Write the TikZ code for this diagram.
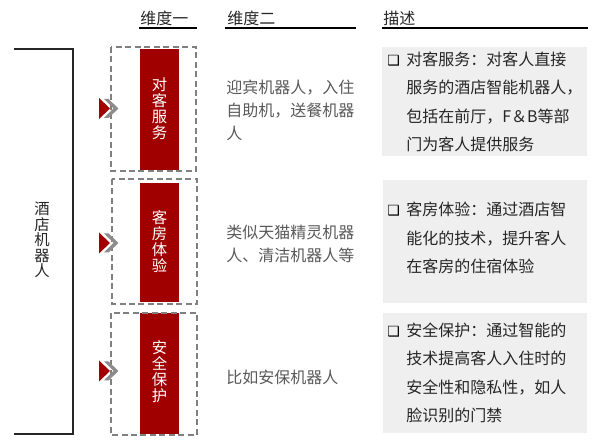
\documentclass[tikz,border=0pt]{standalone}
\usepackage{fontspec}
\setmainfont{Noto Sans CJK SC}
\newfontfamily\dejavu{DejaVu Sans}
\definecolor{hongse}{RGB}{160,0,0}
\definecolor{nenxam}{RGB}{239,239,239}
\definecolor{vienxam}{RGB}{128,128,128}
\definecolor{muixam}{RGB}{140,140,140}
\definecolor{chuxam}{RGB}{89,89,89}
\definecolor{chuden}{RGB}{38,38,38}
\newcommand\ovuong{\makebox[14.25pt][l]{\color{black}\dejavu\bfseries\fontsize{10.5}{12}\selectfont ❑}}
\begin{document}
\begin{tikzpicture}[x=0.75pt,y=-0.75pt,
	khung/.style={draw=vienxam,line width=1.4pt,dash pattern=on 4.5pt off 2.6pt},
	chudo/.style={text=white,font=\fontsize{11.5}{12}\selectfont,align=center,inner sep=0pt},
	cot2/.style={anchor=west,text=chuxam,font=\fontsize{12}{17.3}\selectfont,align=left,inner sep=0pt},
	mota/.style={anchor=west,text=chuden,font=\fontsize{12}{21.4}\selectfont,align=left,inner sep=0pt},
	tieude/.style={anchor=west,text=chuden,font=\fontsize{12}{14}\selectfont,inner sep=0pt}]
	\useasboundingbox (0,0) rectangle (594,441);
	
	%Tiêu đề
	\node[tieude] (td1) at (140,18) {维度一};
	\node[tieude] (td2) at (227,18) {维度二};
	\node[tieude] (td3) at (383,18) {描述};
	\draw[line width=.9pt] (139,28)--(197,28);
	\draw[line width=.9pt] (225,28)--(356,28);
	\draw[line width=.9pt] (382,28)--(588,28);
	
	%Ngoặc trái
	\draw[line width=1pt,chuden] (14,49)--(73,49)--(73,434)--(14,434);
	\node[chuden,font=\fontsize{11.5}{11.6}\selectfont,align=center,inner sep=0pt] (nhom) at (42,240) {酒\\店\\机\\器\\人};
	
	%Khung nét đứt + thanh đỏ
	\fill[hongse] (140,49) rectangle (179,170);
	\fill[hongse] (140,183) rectangle (179,302);
	\fill[hongse] (140,313) rectangle (179,434);
	\draw[khung] (111,47) rectangle (196,171);
	\draw[khung] (112,179) rectangle (197,304);
	\draw[khung] (111,313) rectangle (197,435);
	\node[chudo] (dv1) at (159.5,109) {对\\客\\服\\务};
	\node[chudo] (dv2) at (159.5,242) {客\\房\\体\\验};
	\node[chudo] (dv3) at (159.5,372) {安\\全\\保\\护};
	
	%Mũi tên
	\def\TG{ (99,98)--(110,108.5)--(99,119)--cycle;}
	\def\MT{ (104,99)--(108.5,99)--(118.5,108.5)--(108.5,118)--(104,118)--(113.5,108.5)--cycle;}
	\foreach \dy in {0,134.5,262.5}{
		\fill[hongse,shift={(0,\dy)}] \TG
		\fill[muixam,shift={(0,\dy)}] \MT
	}
	
	%Cột 2
	\node[cot2] (vd1) at (226,110.5) {迎宾机器人，入住\\自助机，送餐机器\\人};
	\node[cot2] (vd2) at (226,243.5) {类似天猫精灵机器\\人、清洁机器人等};
	\node[cot2] (vd3) at (226,377) {比如安保机器人};
	
	%Mô tả
	\fill[nenxam] (382,47) rectangle (587,156);
	\fill[nenxam] (383,180) rectangle (587,303);
	\fill[nenxam] (383,313) rectangle (587,433);
	\node[mota] (mt1) at (387,102) {\ovuong 对客服务：对客人直接\\\hspace*{14.25pt}服务的酒店智能机器人，\\\hspace*{14.25pt}包括在前厅，F＆B等部\\\hspace*{14.25pt}门为客人提供服务};
	\node[mota] (mt2) at (387,238) {\ovuong 客房体验：通过酒店智\\\hspace*{14.25pt}能化的技术，提升客人\\\hspace*{14.25pt}在客房的住宿体验};
	\node[mota] (mt3) at (387,373) {\ovuong 安全保护：通过智能的\\\hspace*{14.25pt}技术提高客人入住时的\\\hspace*{14.25pt}安全性和隐私性，如人\\\hspace*{14.25pt}脸识别的门禁};
\end{tikzpicture}
\end{document}
